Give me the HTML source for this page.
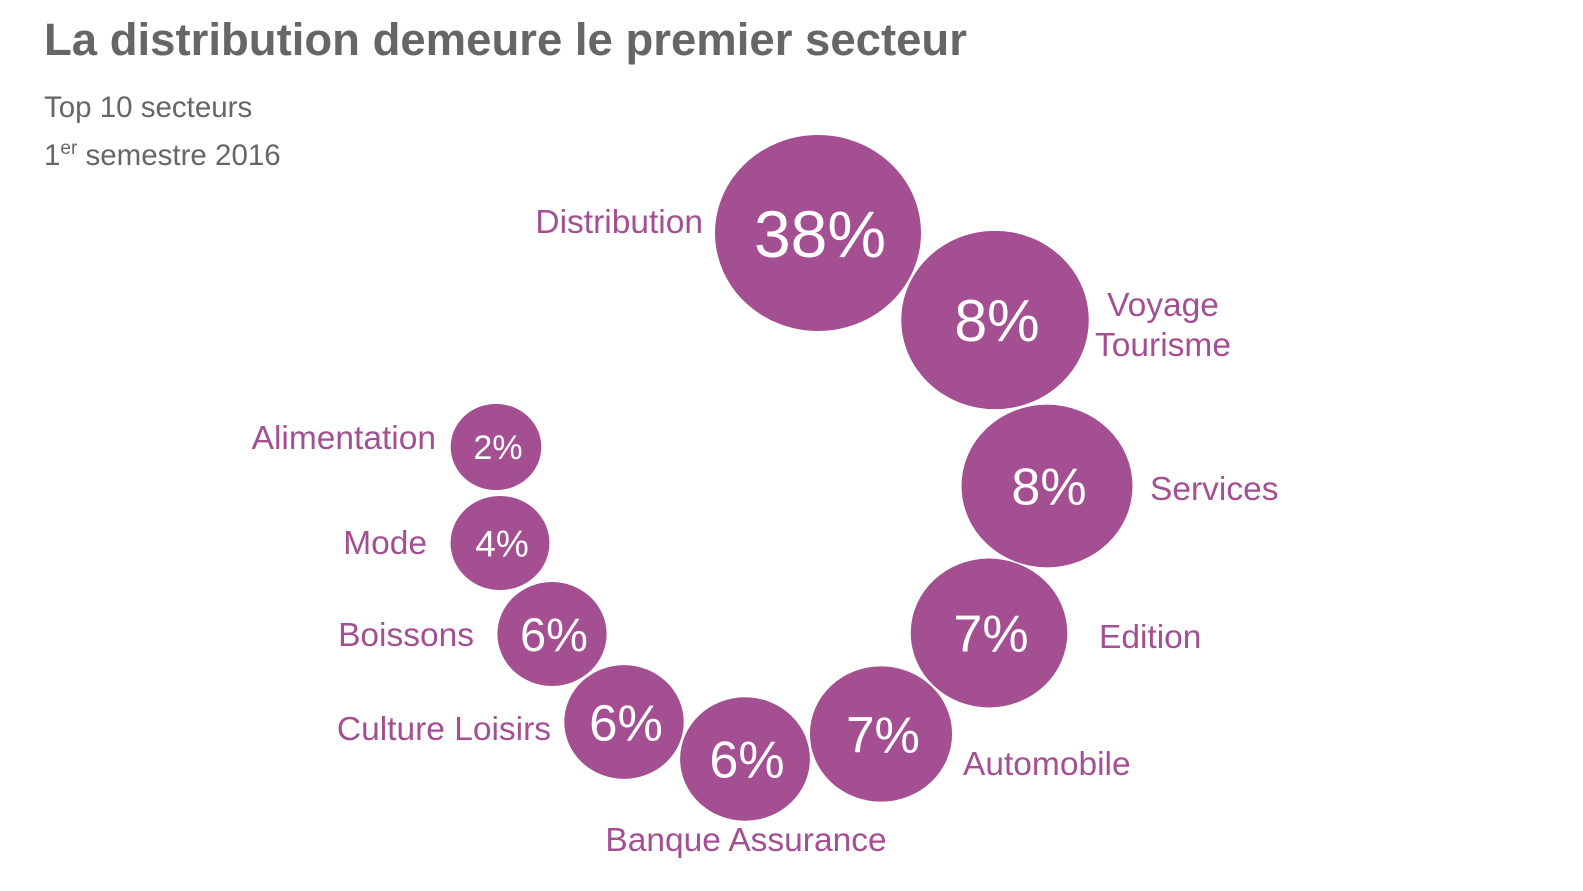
<!DOCTYPE html>
<html><head><meta charset="utf-8">
<style>
html,body{margin:0;padding:0;background:#fff;}
body{width:1583px;height:891px;overflow:hidden;position:relative;font-family:"Liberation Sans",sans-serif;}
#title{position:absolute;left:44px;top:14px;font-size:45.5px;font-weight:bold;color:#666;margin:0;}
.sub{position:absolute;left:44px;font-size:29.5px;color:#666;}
svg{position:absolute;left:0;top:0;}
</style></head><body>
<h1 id="title">La distribution demeure le premier secteur</h1>
<div class="sub" style="top:91px">Top 10 secteurs</div>
<div class="sub" style="top:138px">1<sup style="font-size:19px">er</sup> semestre 2016</div>
<svg id="chart" width="1583" height="891"></svg>
<script>
const categories=["Distribution","Voyage Tourisme","Services","Edition","Automobile","Banque Assurance","Culture Loisirs","Boissons","Mode","Alimentation"];
const values=[38,8,8,7,7,6,6,6,4,2];
const bubbleSizes=[100,91,83,76,69,63,58,53,48,44];
const layoutX=[818,995,1047,989,881,745,624,552,500,496];
const layoutY=[233,320,486,633,734,759,722,634,543,447];
const valueFont=[66,59,52,52,51,52,51,47,37,34];
const labelX=[703,1163,1150,1099,963,746,551,474,427,436];
const labelY=[233,316,500,648,775,851,740,646,554,449];
const labelAnchor=["end","middle","start","start","start","middle","end","end","end","end"];
const svg=document.getElementById('chart');
const NS="http://www.w3.org/2000/svg";
const color="#a54f93";
function rScale(s){return s;}
for(let i=0;i<categories.length;i++){
  const r=rScale(bubbleSizes[i]);
  const e=document.createElementNS(NS,'ellipse');
  e.setAttribute('cx',layoutX[i]);e.setAttribute('cy',layoutY[i]);
  e.setAttribute('rx',r*1.03);e.setAttribute('ry',r*0.98);
  e.setAttribute('fill',color);
  
  
  svg.appendChild(e);
  const t=document.createElementNS(NS,'text');
  t.setAttribute('x',layoutX[i]+2);t.setAttribute('y',layoutY[i]+valueFont[i]*0.36);
  t.setAttribute('text-anchor','middle');t.setAttribute('fill','#fff');
  t.setAttribute('font-size',valueFont[i]);
  t.setAttribute('font-family','Liberation Sans, sans-serif');
  t.textContent=values[i]+'%';
  
  
  svg.appendChild(t);
  const lbl=document.createElementNS(NS,'text');
  lbl.setAttribute('x',labelX[i]);lbl.setAttribute('y',labelY[i]);
  lbl.setAttribute('text-anchor',labelAnchor[i]);lbl.setAttribute('fill',color);
  lbl.setAttribute('font-size','33.5');
  lbl.setAttribute('font-family','Liberation Sans, sans-serif');
  const parts=categories[i]==="Voyage Tourisme"?["Voyage","Tourisme"]:[categories[i]];
  parts.forEach((p,k)=>{const ts=document.createElementNS(NS,'tspan');ts.setAttribute('x',labelX[i]);if(k>0)ts.setAttribute('dy','40');ts.textContent=p;lbl.appendChild(ts);});
  
  
  svg.appendChild(lbl);
}
</script>
</body></html>
